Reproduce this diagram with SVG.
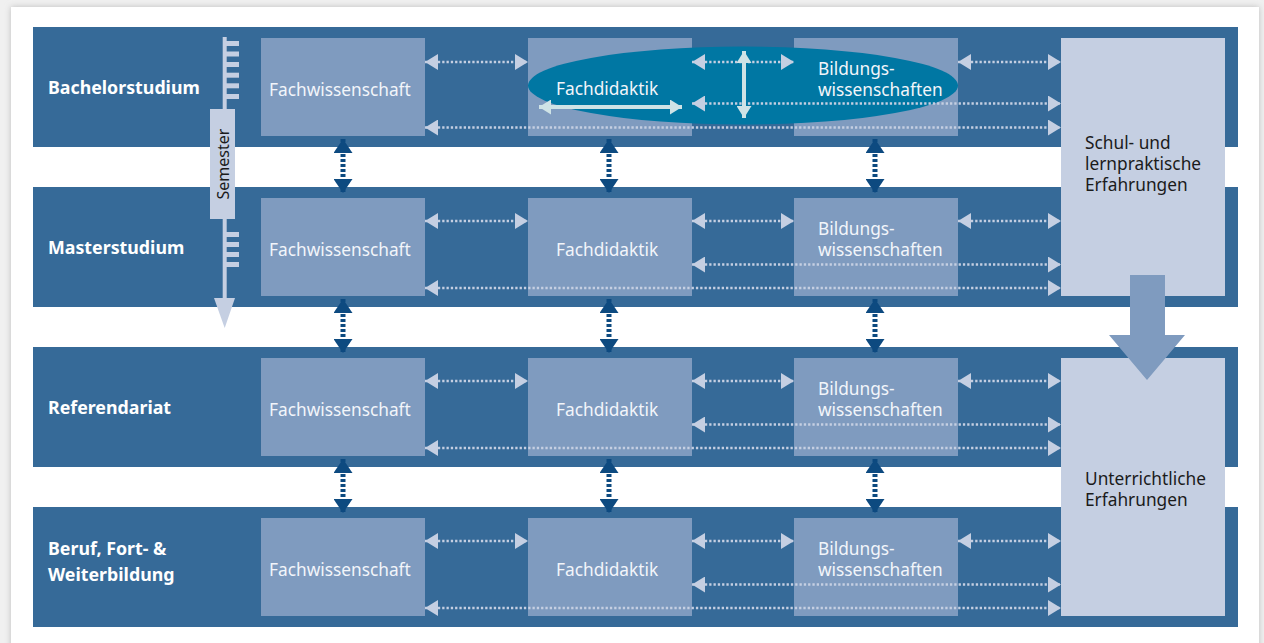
<svg xmlns="http://www.w3.org/2000/svg" width="1264" height="643" viewBox="0 0 1264 643">
<defs>
<style>
.band{fill:#366a98}
.box{fill:#7f9bbf}
.side{fill:#c5cfe2}
.lbl{font-family:"Noto Sans","Liberation Sans",sans-serif;font-weight:bold;font-size:17.8px;fill:#ffffff}
.bt{font-family:"Noto Sans","Liberation Sans",sans-serif;font-size:17.3px;fill:#f2f5fa}
.st{font-family:"Noto Sans","Liberation Sans",sans-serif;font-size:17.3px;fill:#1b1b1b}
.dot{stroke:#c5cfe2;stroke-width:2.5;stroke-dasharray:2.3 2;fill:none;marker-start:url(#lh);marker-end:url(#lh)}
.dark{stroke:#0d4a80;stroke-width:5;stroke-dasharray:3 2;fill:none;marker-start:url(#dh);marker-end:url(#dh)}
.sol{stroke:#cfe3e6;stroke-width:4;fill:none;marker-start:url(#sh);marker-end:url(#sh)}
</style>
<marker id="lh" markerUnits="userSpaceOnUse" markerWidth="13" markerHeight="16" refX="13" refY="8" orient="auto-start-reverse" viewBox="0 0 13 16"><path d="M0,0 L13,8 L0,16 z" fill="#c5cfe2"/></marker>
<marker id="dh" markerUnits="userSpaceOnUse" markerWidth="14" markerHeight="19" refX="14" refY="9.5" orient="auto-start-reverse" viewBox="0 0 14 19"><path d="M0,0 L14,9.5 L0,19 z" fill="#0d4a80"/></marker>
<marker id="sh" markerUnits="userSpaceOnUse" markerWidth="12" markerHeight="15" refX="12" refY="7.5" orient="auto-start-reverse" viewBox="0 0 12 15"><path d="M0,0 L12,7.5 L0,15 z" fill="#cfe3e6"/></marker>
<filter id="shadow" x="-5%" y="-5%" width="110%" height="110%"><feGaussianBlur stdDeviation="3"/></filter>
</defs>
<rect x="0" y="0" width="1264" height="643" fill="#f0f0f0"/>
<rect x="11" y="7" width="1248" height="650" fill="#bdbdbd" filter="url(#shadow)"/>
<rect x="11" y="7" width="1248" height="650" fill="#ffffff"/>

<g id="band-bachelor"><rect class="band" x="33" y="27" width="1205" height="120"/><text class="lbl" x="48" y="94">Bachelorstudium</text></g>
<g id="band-master"><rect class="band" x="33" y="187" width="1205" height="120"/><text class="lbl" x="48" y="254">Masterstudium</text></g>
<g id="band-referendariat"><rect class="band" x="33" y="347" width="1205" height="120"/><text class="lbl" x="48" y="414">Referendariat</text></g>
<g id="band-beruf"><rect class="band" x="33" y="507" width="1205" height="120"/><text class="lbl" x="48" y="555">Beruf, Fort- &amp;</text><text class="lbl" x="48" y="581">Weiterbildung</text></g>

<g id="semester">
<rect x="222.7" y="37" width="4" height="264" fill="#c5cfe2"/>
<g fill="#c5cfe2">
<rect x="226" y="41" width="13" height="5"/><rect x="226" y="51.5" width="13" height="5"/><rect x="226" y="62" width="13" height="5"/><rect x="226" y="72.7" width="13" height="5"/><rect x="226" y="83.3" width="13" height="5"/><rect x="226" y="94" width="13" height="5"/>
<rect x="226" y="232" width="13" height="5"/><rect x="226" y="242" width="13" height="5"/><rect x="226" y="252" width="13" height="5"/><rect x="226" y="262" width="13" height="5"/>
</g>
<polygon points="214,298 235,298 224.7,328" fill="#c5cfe2"/>
<rect x="210" y="109" width="25" height="110" fill="#c5cfe2"/>
<text x="222.5" y="164" transform="rotate(-90 222.5 164)" text-anchor="middle" dominant-baseline="central" font-family="Noto Sans, Liberation Sans, sans-serif" font-size="16" fill="#1b1b1b">Semester</text>
</g>

<g id="b1-fw"><rect class="box" x="261" y="38" width="164" height="98"/><text class="bt" x="269" y="96">Fachwissenschaft</text></g>
<g id="b1-fd"><rect class="box" x="528" y="38" width="164" height="98"/></g>
<g id="b1-bw"><rect class="box" x="794" y="38" width="164" height="98"/></g>
<g id="b1-ellipse"><ellipse cx="743" cy="85.5" rx="215" ry="39" fill="#0077a3"/><text class="bt" x="556" y="95">Fachdidaktik</text><text class="bt" x="818" y="75">Bildungs-</text><text class="bt" x="818" y="96">wissenschaften</text></g>

<g id="b2-fw"><rect class="box" x="261" y="198" width="164" height="98"/><text class="bt" x="269" y="256">Fachwissenschaft</text></g>
<g id="b2-fd"><rect class="box" x="528" y="198" width="164" height="98"/><text class="bt" x="556" y="256">Fachdidaktik</text></g>
<g id="b2-bw"><rect class="box" x="794" y="198" width="164" height="98"/><text class="bt" x="818" y="235">Bildungs-</text><text class="bt" x="818" y="256">wissenschaften</text></g>

<g id="b3-fw"><rect class="box" x="261" y="358" width="164" height="98"/><text class="bt" x="269" y="416">Fachwissenschaft</text></g>
<g id="b3-fd"><rect class="box" x="528" y="358" width="164" height="98"/><text class="bt" x="556" y="416">Fachdidaktik</text></g>
<g id="b3-bw"><rect class="box" x="794" y="358" width="164" height="98"/><text class="bt" x="818" y="395">Bildungs-</text><text class="bt" x="818" y="416">wissenschaften</text></g>

<g id="b4-fw"><rect class="box" x="261" y="518" width="164" height="98"/><text class="bt" x="269" y="576">Fachwissenschaft</text></g>
<g id="b4-fd"><rect class="box" x="528" y="518" width="164" height="98"/><text class="bt" x="556" y="576">Fachdidaktik</text></g>
<g id="b4-bw"><rect class="box" x="794" y="518" width="164" height="98"/><text class="bt" x="818" y="555">Bildungs-</text><text class="bt" x="818" y="576">wissenschaften</text></g>

<g id="schulpraxis"><rect class="side" x="1061" y="38" width="164" height="258"/><text class="st" x="1085" y="149">Schul- und</text><text class="st" x="1085" y="170">lernpraktische</text><text class="st" x="1085" y="191">Erfahrungen</text></g>
<g id="unterricht"><rect class="side" x="1061" y="358" width="164" height="258"/><text class="st" x="1085" y="485">Unterrichtliche</text><text class="st" x="1085" y="506">Erfahrungen</text></g>

<g id="connectors">
<path class="dot" d="M425,62H528"/><path class="dot" d="M692,62H794"/><path class="dot" d="M958,62H1061"/>
<path class="dot" d="M692,103.5H1061"/><path class="dot" d="M425,127.5H1061"/>
<path class="dot" d="M425,221H528"/><path class="dot" d="M692,221H794"/><path class="dot" d="M958,221H1061"/>
<path class="dot" d="M692,264.5H1061"/><path class="dot" d="M425,288H1061"/>
<path class="dot" d="M425,381H528"/><path class="dot" d="M692,381H794"/><path class="dot" d="M958,381H1061"/>
<path class="dot" d="M692,424.5H1061"/><path class="dot" d="M425,448H1061"/>
<path class="dot" d="M425,541H528"/><path class="dot" d="M692,541H794"/><path class="dot" d="M958,541H1061"/>
<path class="dot" d="M692,584.5H1061"/><path class="dot" d="M425,608H1061"/>
<path class="sol" d="M539,107H682"/><path class="sol" d="M744,51V118"/>
<path class="dark" d="M343,139V193"/><path class="dark" d="M609,139V193"/><path class="dark" d="M875,139V193"/>
<path class="dark" d="M343,299V353"/><path class="dark" d="M609,299V353"/><path class="dark" d="M875,299V353"/>
<path class="dark" d="M343,459V513"/><path class="dark" d="M609,459V513"/><path class="dark" d="M875,459V513"/>
<polygon points="1130,275 1165,275 1165,335 1185,335 1147,380 1109,335 1130,335" fill="#7f9bbf"/>
</g>
</svg>
